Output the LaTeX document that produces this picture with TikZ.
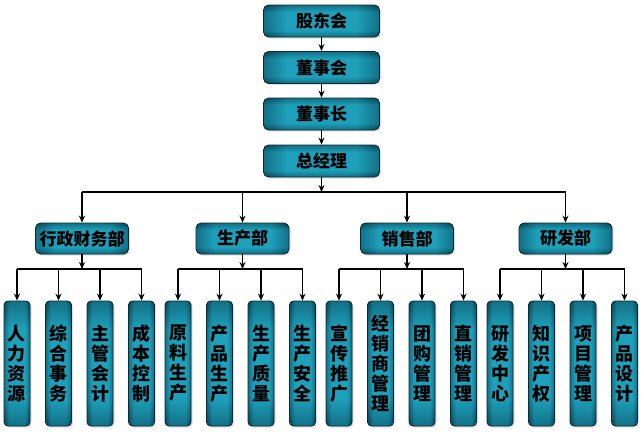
\documentclass[tikz,border=0pt]{standalone}
\usepackage{fontspec}
\newfontfamily\cjk{Noto Sans CJK SC}
\usetikzlibrary{arrows.meta,shadows}
\definecolor{tealdark}{RGB}{8,66,84}
\definecolor{teallight}{RGB}{30,160,186}
\definecolor{boxedge}{RGB}{12,40,48}
\pgfdeclarehorizontalshading{edgeh}{100bp}{color(0bp)=(tealdark); color(25bp)=(tealdark); color(35bp)=(teallight); color(65bp)=(teallight); color(75bp)=(tealdark); color(100bp)=(tealdark)}
\pgfdeclareverticalshading{edgev}{100bp}{color(0bp)=(tealdark); color(25bp)=(tealdark); color(36bp)=(teallight); color(64bp)=(teallight); color(75bp)=(tealdark); color(100bp)=(tealdark)}
\tikzset{
  box/.style={rounded corners=5pt, draw=boxedge, line width=0.8pt,
    shading=edgeh,
    drop shadow={shadow xshift=1.5pt, shadow yshift=-1.5pt, opacity=0.25},
    path picture={\shade[shading=edgev, opacity=0.5]
      (path picture bounding box.south west) rectangle (path picture bounding box.north east);},
    font=\cjk\bfseries\fontsize{17}{19}\selectfont, text=black, inner sep=0pt, align=center},
  topbox/.style={box, minimum width=116pt, minimum height=32pt},
  deptbox/.style={box, minimum width=93pt, minimum height=31pt},
  leafbox/.style={box, rounded corners=4pt, minimum width=26pt, minimum height=125pt,
    font=\cjk\bfseries\fontsize{18}{20}\selectfont},
  conn/.style={line width=1.5pt, black},
  arr/.style={conn, -{Stealth[length=7pt,width=6pt]}}
}
\begin{document}
\begin{tikzpicture}[x=1pt,y=-1pt]
\useasboundingbox (0,0) rectangle (644,434);
\node[topbox] (gdh) at (321.5,21) {股东会};
\node[topbox] (dsh) at (321.5,67.5) {董事会};
\node[topbox] (dsz) at (321.5,114) {董事长};
\node[topbox] (zjl) at (321.5,161) {总经理};
\draw[arr] (gdh) -- (dsh);
\draw[arr] (dsh) -- (dsz);
\draw[arr] (dsz) -- (zjl);
\coordinate (bus) at (321.5,192);
\draw[arr] (zjl.south) -- (bus);
\node[deptbox] (d1) at (82,238.5) {行政财务部};
\node[deptbox] (d2) at (242.5,238.5) {生产部};
\node[deptbox] (d3) at (407,238.5) {销售部};
\node[deptbox] (d4) at (565.5,238.5) {研发部};
\draw[conn] (d1.north |- bus) -- (d4.north |- bus);
\foreach \d in {d1,d2,d3,d4} \draw[arr] (\d.north |- bus) -- (\d.north);
% leaves
\foreach \g/\dep/\la/\lb/\lc/\ld in {
  0/d1/{人\\力\\资\\源}/{综\\合\\事\\务}/{主\\管\\会\\计}/{成\\本\\控\\制},
  1/d2/{原\\料\\生\\产}/{产\\品\\生\\产}/{生\\产\\质\\量}/{生\\产\\安\\全},
  2/d3/{宣\\传\\推\\广}/{经\\销\\商\\管\\理}/{团\\购\\管\\理}/{直\\销\\管\\理},
  3/d4/{研\\发\\中\\心}/{知\\识\\产\\权}/{项\\目\\管\\理}/{产\\品\\设\\计}}{
  \node[leafbox] (\dep l1) at (17+161*\g,363.5) {\la};
  \node[leafbox] (\dep l2) at (58.5+161*\g,363.5) {\lb};
  \node[leafbox] (\dep l3) at (100+161*\g,363.5) {\lc};
  \node[leafbox] (\dep l4) at (141.5+161*\g,363.5) {\ld};
  \coordinate (\dep bus) at (\dep.south |- 0,269);
  \draw[arr] (\dep.south) -- (\dep bus);
  \draw[conn] (\dep l1.north |- \dep bus) -- (\dep l4.north |- \dep bus);
  \foreach \k in {1,2,3,4} \draw[arr] (\dep l\k.north |- \dep bus) -- (\dep l\k.north);
}
\end{tikzpicture}
\end{document}
